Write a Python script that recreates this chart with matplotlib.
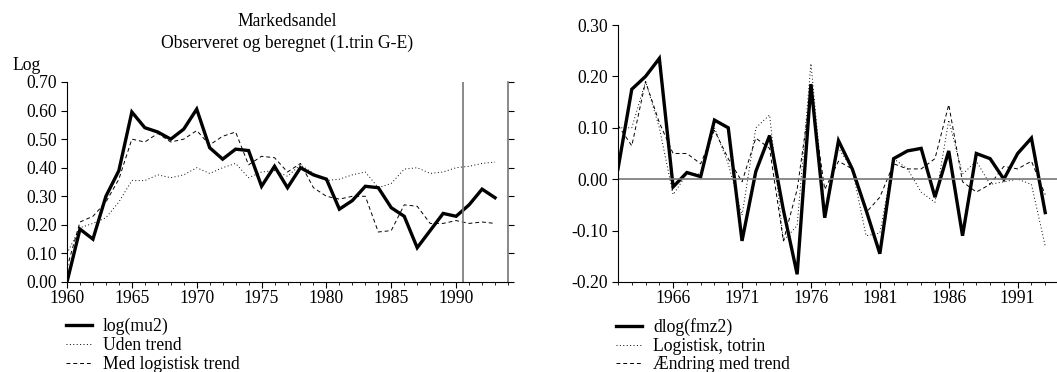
import numpy as np
import matplotlib
matplotlib.use('Agg')
import matplotlib.pyplot as plt
from matplotlib.ticker import MultipleLocator, FormatStrFormatter

plt.rcParams['font.family'] = ['Liberation Serif', 'DejaVu Serif']
plt.rcParams['font.size'] = 12.7

# left panel: market share, 1960-1993
years_l = list(range(1960, 1994))
log_mu2 = [0.00, 0.185, 0.15, 0.30, 0.39, 0.595, 0.54, 0.525, 0.50, 0.535,
           0.605, 0.47, 0.43, 0.465, 0.46, 0.335, 0.405, 0.33, 0.40, 0.375,
           0.36, 0.255, 0.285, 0.335, 0.33, 0.26, 0.23, 0.12, 0.18, 0.24,
           0.23, 0.27, 0.325, 0.295]
uden_trend = [0.10, 0.19, 0.205, 0.225, 0.28, 0.355, 0.355, 0.375, 0.365, 0.375,
              0.40, 0.38, 0.40, 0.415, 0.365, 0.385, 0.39, 0.37, 0.41, 0.38,
              0.355, 0.36, 0.375, 0.385, 0.33, 0.345, 0.395, 0.40, 0.38, 0.385,
              0.40, 0.405, 0.415, 0.42]
med_trend = [0.05, 0.21, 0.23, 0.28, 0.36, 0.50, 0.49, 0.52, 0.49, 0.50,
             0.53, 0.48, 0.51, 0.525, 0.41, 0.44, 0.435, 0.385, 0.415, 0.33,
             0.30, 0.29, 0.30, 0.30, 0.175, 0.18, 0.27, 0.265, 0.205, 0.205,
             0.215, 0.205, 0.21, 0.205]

# right panel: changes, 1962-1993
years_r = list(range(1962, 1994))
dlog_fmz2 = [0.02, 0.175, 0.20, 0.235, -0.015, 0.013, 0.005, 0.115, 0.10, -0.12,
             0.015, 0.085, -0.06, -0.185, 0.185, -0.075, 0.075, 0.02, -0.06, -0.145,
             0.04, 0.055, 0.06, -0.035, 0.055, -0.11, 0.05, 0.04, 0.0, 0.05,
             0.08, -0.065]
logistisk = [0.10, 0.10, 0.19, 0.10, -0.03, 0.01, 0.01, 0.10, 0.03, -0.07,
             0.10, 0.125, -0.12, -0.09, 0.225, -0.06, 0.06, 0.02, -0.11, -0.105,
             0.04, 0.02, -0.025, -0.045, 0.115, 0.01, 0.035, -0.01, -0.005, 0.00,
             -0.01, -0.13]
aendring = [0.105, 0.065, 0.19, 0.11, 0.05, 0.05, 0.03, 0.095, 0.04, -0.005,
            0.08, 0.06, -0.12, -0.02, 0.17, -0.02, 0.035, 0.02, -0.065, -0.035,
            0.03, 0.02, 0.02, 0.04, 0.145, -0.005, -0.025, -0.01, 0.025, 0.02,
            0.035, -0.03]

W, H = 1057, 372
fig = plt.figure(figsize=(W / 100, H / 100), dpi=100)
ax1 = fig.add_axes([67 / W, 90 / H, 441 / W, 200 / H])
ax2 = fig.add_axes([618 / W, 90 / H, 441 / W, 257 / H])

dash = (0, (4, 3))
dot = (0, (1, 2.5))
leg_kw = dict(loc='upper left', frameon=False, handlelength=1.5,
              handletextpad=0.6, labelspacing=0.1, borderaxespad=0,
              borderpad=0)

# ---- left
l1, = ax1.plot(years_l, log_mu2, color='black', lw=2.4, solid_joinstyle='miter')
l2, = ax1.plot(years_l, uden_trend, color='black', lw=0.7, linestyle=dot)
l3, = ax1.plot(years_l, med_trend, color='black', lw=0.7, linestyle=dash)
ax1.axvline(1990.5, color='#777777', lw=1.2)
ax1.set_xlim(1960, 1994)
ax1.set_ylim(0, 0.70)
ax1.xaxis.set_major_locator(MultipleLocator(5))
ax1.xaxis.set_minor_locator(MultipleLocator(1))
ax1.yaxis.set_major_locator(MultipleLocator(0.1))
ax1.yaxis.set_major_formatter(FormatStrFormatter('%.2f'))
ax1.spines['top'].set_visible(False)
ax1.spines['right'].set_color('#777777')
ax1.spines['right'].set_linewidth(1.2)
ax1.tick_params(axis='y', which='both', right=True, direction='out', length=4, pad=3)
ax1.tick_params(axis='x', which='major', length=4, pad=2)
ax1.tick_params(axis='x', which='minor', length=2.5)
fig.text(12 / W, 1 - 65 / H, 'Log', va='center', ha='left')
fig.text(287 / W, 1 - 22 / H, 'Markedsandel', va='center', ha='center')
fig.text(287 / W, 1 - 43 / H, 'Observeret og beregnet (1.trin G-E)',
         va='center', ha='center')
ax1.legend([l1, l2, l3], ['log(mu2)', 'Uden trend', 'Med logistisk trend'],
           bbox_to_anchor=(66 / W, 1 - 318 / H),
           bbox_transform=fig.transFigure, **leg_kw)

# ---- right
r1, = ax2.plot(years_r, dlog_fmz2, color='black', lw=2.4, solid_joinstyle='miter')
r2, = ax2.plot(years_r, logistisk, color='black', lw=0.7, linestyle=dot)
r3, = ax2.plot(years_r, aendring, color='black', lw=0.7, linestyle=dash)
ax2.axhline(0, color='#777777', lw=1.2)
ax2.set_xlim(1962, 1994)
ax2.set_ylim(-0.20, 0.30)
ax2.set_xticks(range(1966, 1994, 5))
ax2.xaxis.set_minor_locator(MultipleLocator(1))
ax2.yaxis.set_major_locator(MultipleLocator(0.1))
ax2.yaxis.set_major_formatter(FormatStrFormatter('%.2f'))
ax2.spines['top'].set_visible(False)
ax2.spines['right'].set_visible(False)
ax2.tick_params(axis='y', length=4, pad=3)
ax2.tick_params(axis='x', which='major', length=4, pad=2)
ax2.tick_params(axis='x', which='minor', length=2.5)
ax2.legend([r1, r2, r3], ['dlog(fmz2)', 'Logistisk, totrin', 'Ændring med trend'],
           bbox_to_anchor=(616 / W, 1 - 318 / H),
           bbox_transform=fig.transFigure, **leg_kw)

fig.savefig('out.png', dpi=100)
